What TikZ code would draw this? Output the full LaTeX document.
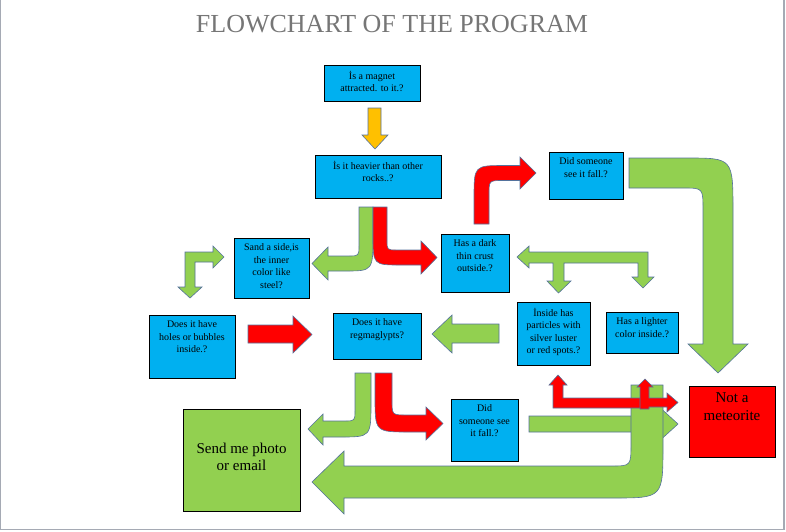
\documentclass[tikz,border=0pt]{standalone}
\usepackage{fontspec}
\newfontfamily\qserif{Liberation Serif}
\definecolor{qblue}{RGB}{0,176,240}
\definecolor{qgreen}{RGB}{146,208,80}
\definecolor{qred}{RGB}{255,0,0}
\definecolor{qyellow}{RGB}{255,192,0}
\definecolor{qedge}{RGB}{84,114,156}
\definecolor{qtitle}{RGB}{118,118,118}
\definecolor{qframe}{RGB}{165,170,180}
\begin{document}
\begin{tikzpicture}[x=1pt, y=-1pt,
  qbox/.style={draw=black, line width=0.9pt, fill=qblue, inner sep=0pt},
  qtxt/.style={font=\qserif\fontsize{10}{12.5}\selectfont, align=center, inner sep=0pt, anchor=north, yshift=-6pt},
  qbig/.style={font=\qserif\fontsize{15}{17.5}\selectfont, align=center, inner sep=0pt, anchor=north, yshift=-7pt},
  qarr/.style={draw=qedge, line width=0.6pt, line join=miter}]
\useasboundingbox (0,0) rectangle (786,531);
\draw[qframe, line width=1.2pt] (0.6,0) -- (0.6,529.5) -- (784,529.5) -- (784,0);
\node[font=\qserif\fontsize{26}{30}\selectfont, text=qtitle] (title) at (392,24) {FLOWCHART OF THE PROGRAM};
\node[qbox, minimum width=96, minimum height=36, label={[qtxt]north:{İs a magnet\\attracted. to it.?}}] (bx0) at (372,83) {};
\node[qbox, minimum width=126, minimum height=43, label={[qtxt]north:{İs it heavier than other\\rocks..?}}] (bx1) at (378,176.5) {};
\node[qbox, minimum width=75, minimum height=60, label={[qtxt]north:{Sand a side,is\\the inner\\color like\\steel?}}] (bx2) at (271.5,268) {};
\node[qbox, minimum width=68, minimum height=58, label={[qtxt]north:{Has a dark\\thin crust\\outside.?}}] (bx3) at (475,263) {};
\node[qbox, minimum width=74, minimum height=47, label={[qtxt]north:{Did someone\\see it fall.?}}] (bx4) at (586,175.5) {};
\node[qbox, minimum width=73, minimum height=63, label={[qtxt]north:{İnside has\\particles with\\silver luster\\or red spots.?}}] (bx5) at (553.5,333.5) {};
\node[qbox, minimum width=72, minimum height=41, label={[qtxt]north:{Has a lighter\\color inside.?}}] (bx6) at (642,332.5) {};
\node[qbox, minimum width=86, minimum height=63, label={[qtxt]north:{Does it have\\holes or bubbles\\inside.?}}] (bx7) at (192,346.5) {};
\node[qbox, minimum width=88, minimum height=46, label={[qtxt]north:{Does it have\\regmaglypts?}}] (bx8) at (377,336) {};
\node[qbox, minimum width=67, minimum height=62, label={[qtxt]north:{Did\\someone see\\it fall.?}}] (bx9) at (484.5,430) {};
\node[qbox, fill=qred, minimum width=86, minimum height=71, label={[qbig]north:{Not a\\meteorite}}] (bx10) at (732,421.5) {};
\node[qbox, fill=qgreen, minimum width=117, minimum height=102, label={[qbig, anchor=center, yshift=10pt]center:{Send me photo\\or email}}] (bx11) at (241.5,460) {};
\draw[qarr, fill=qyellow] (368,108) -- (381,108) -- (381,135) -- (388,135) -- (375,149) -- (362,135) -- (368,135) -- cycle;
\draw[qarr, fill=qgreen] (359,207) -- (373,207) -- (373,235) .. controls (373,271) .. (345,271) -- (328,271) -- (328,280) -- (312,263.5) -- (328,247) -- (328,256) -- (348,256) .. controls (359,256) .. (359,245) -- cycle;
\draw[qarr, fill=qred] (373,207) -- (387,207) -- (387,240) .. controls (387,250) .. (397,250) -- (421,250) -- (421,241) -- (437,257.5) -- (421,274) -- (421,265) -- (401,265) .. controls (373,265) .. (373,235) -- cycle;
\draw[qarr, fill=qred] (474,224) -- (474,198) .. controls (474,165.5) .. (505,165.5) -- (520,165.5) -- (520,157) -- (536,173) -- (520,189) -- (520,180.5) -- (503,180.5) .. controls (489,180.5) .. (489,195) -- (489,224) -- cycle;
\draw[qarr, fill=qgreen] (185,287) -- (185,252) -- (213,252) -- (213,246) -- (224,257) -- (213,268) -- (213,262) -- (195,262) -- (195,287) -- (202,287) -- (190,298) -- (178,287) -- cycle;
\draw[qarr, fill=qred] (248,325) -- (293,325) -- (293,316) -- (312,334.5) -- (293,353) -- (293,343) -- (248,343) -- cycle;
\draw[qarr, fill=qgreen] (499,324) -- (452,324) -- (452,315) -- (432,334) -- (452,353) -- (452,343) -- (499,343) -- cycle;
\draw[qarr, fill=qgreen] (517,257) -- (529,246) -- (529,252) -- (648,252) -- (648,277) -- (654,277) -- (643,288) -- (632,277) -- (638,277) -- (638,263) -- (564,263) -- (564,281) -- (571,281) -- (558.5,293) -- (547,281) -- (553,281) -- (553,263) -- (529,263) -- (529,268) -- cycle;
\draw[qarr, fill=qgreen] (629,158) -- (687,158) .. controls (733,158) .. (733,212) -- (733,344) -- (748,344) -- (718,373) -- (688,344) -- (703,344) -- (703,210) .. controls (703,188) .. (683,188) -- (629,188) -- cycle;
\draw[qarr, fill=qgreen] (529,416) -- (656,416) -- (656,404) -- (678,424) -- (656,444) -- (656,432) -- (529,432) -- cycle;
\draw[qarr, fill=qgreen] (631,385) -- (663,385) -- (663,445) .. controls (663,498) .. (613,498) -- (344,498) -- (344,514) -- (312,482) -- (344,451) -- (344,466) -- (611,466) .. controls (631,466) .. (631,443) -- cycle;
\draw[qarr, fill=qgreen] (355,373) -- (371,373) -- (371,402) .. controls (371,437) .. (340,437) -- (323,437) -- (323,445) -- (308,429) -- (323,414) -- (323,421) -- (344,421) .. controls (355,421) .. (355,410) -- cycle;
\draw[qarr, fill=qred] (375,373) -- (392,373) -- (392,400) .. controls (392,415) .. (407,415) -- (426,415) -- (426,407) -- (443,423.5) -- (426,440) -- (426,432) -- (410,432) .. controls (375,432) .. (375,397) -- cycle;
\draw[qarr, fill=qred] (553,385) -- (549,385) -- (558,375) -- (567,385) -- (563,385) -- (563,398) -- (645,398) -- (645,408) -- (553,408) -- cycle;
\draw[qarr, fill=qred] (640,409) -- (640,387) -- (637,387) -- (645,379) -- (653,387) -- (649,387) -- (649,398) -- (667,398) -- (667,393) -- (678,402.5) -- (667,412) -- (667,407) -- (649,407) -- (649,409) -- cycle;
\end{tikzpicture}
\end{document}
